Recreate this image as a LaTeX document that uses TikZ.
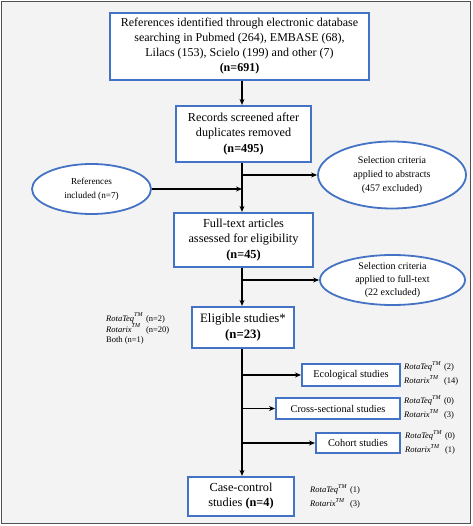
\documentclass[tikz,border=0pt]{standalone}
\usepackage{fontspec}
\setmainfont{Liberation Serif}
\usetikzlibrary{shapes.geometric,arrows.meta}
\definecolor{boxblue}{HTML}{4472C4}
\definecolor{bg}{HTML}{F3F3F3}
\definecolor{frame}{HTML}{505050}
\newcommand{\tmk}{\textsuperscript{\fontsize{6}{6}\selectfont\itshape\raisebox{1.5pt}{TM}}}
\tikzset{
  pbox/.style={draw=boxblue, line width=2.2pt, fill=white, align=center, inner sep=1pt, font=\fontsize{12}{15}\selectfont},
  pell/.style={ellipse, draw=boxblue, line width=1.8pt, fill=white, align=center, inner sep=0pt, font=\fontsize{10}{14}\selectfont},
  sbox/.style={draw=boxblue, line width=2pt, fill=white, align=center, inner sep=1pt, font=\fontsize{10.3}{12}\selectfont},
  side/.style={align=left, anchor=west, inner sep=0pt, font=\fontsize{8.5}{14}\selectfont},
  arr/.style={line width=1.3pt, -{Stealth[length=6pt,width=5pt]}},
  ln/.style={line width=1.3pt}
}
\begin{document}
\begin{tikzpicture}[x=1pt,y=-1pt]
\useasboundingbox (0,0) rectangle (472,526);
\draw[frame, fill=bg, line width=1.2pt] (1.5,1.5) rectangle (470.5,523.5);

\node[pbox, minimum width=259pt, minimum height=67pt] (b1) at (239.5,46.5)
  {References identified through electronic database\\searching in Pubmed (264), EMBASE (68),\\Lilacs (153), Scielo (199) and other (7)\\\textbf{(n=691)}};
\node[pbox, minimum width=135pt, minimum height=56pt, font=\fontsize{12.2}{15.5}\selectfont] (b2) at (243.5,134)
  {Records screened after\\duplicates removed\\\textbf{(n=495)}};
\node[pbox, minimum width=139pt, minimum height=54pt, font=\fontsize{12.3}{15.5}\selectfont] (b3) at (243.5,240)
  {Full-text articles\\assessed for eligibility\\\textbf{(n=45)}};
\node[pbox, minimum width=102pt, minimum height=41pt, font=\fontsize{12.8}{16}\selectfont] (b4) at (243,327.5)
  {Eligible studies*\\\textbf{(n=23)}};
\node[pbox, minimum width=106pt, minimum height=39pt, font=\fontsize{12.3}{15}\selectfont] (b5) at (241,496.5)
  {Case-control\\studies \textbf{(n=4)}};

\node[pell, minimum width=148pt, minimum height=67pt] (e1) at (392,175)
  {Selection criteria\\applied to abstracts\\(457 excluded)};
\node[pell, minimum width=145pt, minimum height=50pt, font=\fontsize{10}{13}\selectfont] (e2) at (392.5,280)
  {Selection criteria\\applied to full-text\\(22 excluded)};
\node[pell, minimum width=119pt, minimum height=50pt, font=\fontsize{9.2}{14}\selectfont] (e3) at (91.5,189)
  {References\\included (n=7)};

\node[sbox, minimum width=98pt, minimum height=22pt] (s1) at (351,375) {Ecological studies};
\node[sbox, minimum width=124pt, minimum height=21pt] (s2) at (338,408.5) {Cross-sectional studies};
\node[sbox, minimum width=84pt, minimum height=20pt] (s3) at (358,443) {Cohort studies};

\draw[arr] (b1.south -| 242,0) -- (b2.north -| 242,0);
\draw[arr] (b2.south -| 242,0) -- (b3.north -| 242,0);
\draw[arr] (b3.south -| 242,0) -- (b4.north -| 242,0);
\draw[arr] (b4.south -| 242,0) -- (b5.north -| 242,0);
\draw[arr] (242,175) -- (e1.west);
\draw[arr] (e3.east) -- (242,189);
\draw[arr] (242,280) -- (e2.west);
\draw[arr] (242,375) -- (s1.west);
\draw[arr] (242,408.5) -- (s2.west);
\draw[arr] (242,443) -- (s3.west);

\node[side] (t1) at (106,329) {\begin{tabular}{@{}l@{\hspace{3pt}}l@{}}\textit{RotaTeq}\tmk & (n=2)\\[-3pt]\textit{Rotarix}\tmk & (n=20)\\[-4pt]\multicolumn{2}{@{}l@{}}{Both (n=1)}\end{tabular}};
\node[side] (t2) at (404,374) {\begin{tabular}{@{}l@{\hspace{3pt}}l@{}}\textit{RotaTeq}\tmk & (2)\\\textit{Rotarix}\tmk & (14)\end{tabular}};
\node[side] (t3) at (404,408) {\begin{tabular}{@{}l@{\hspace{3pt}}l@{}}\textit{RotaTeq}\tmk & (0)\\\textit{Rotarix}\tmk & (3)\end{tabular}};
\node[side] (t4) at (405,443) {\begin{tabular}{@{}l@{\hspace{3pt}}l@{}}\textit{RotaTeq}\tmk & (0)\\\textit{Rotarix}\tmk & (1)\end{tabular}};
\node[side] (t5) at (310,497) {\begin{tabular}{@{}l@{\hspace{3pt}}l@{}}\textit{RotaTeq}\tmk & (1)\\\textit{Rotarix}\tmk & (3)\end{tabular}};
\end{tikzpicture}
\end{document}
